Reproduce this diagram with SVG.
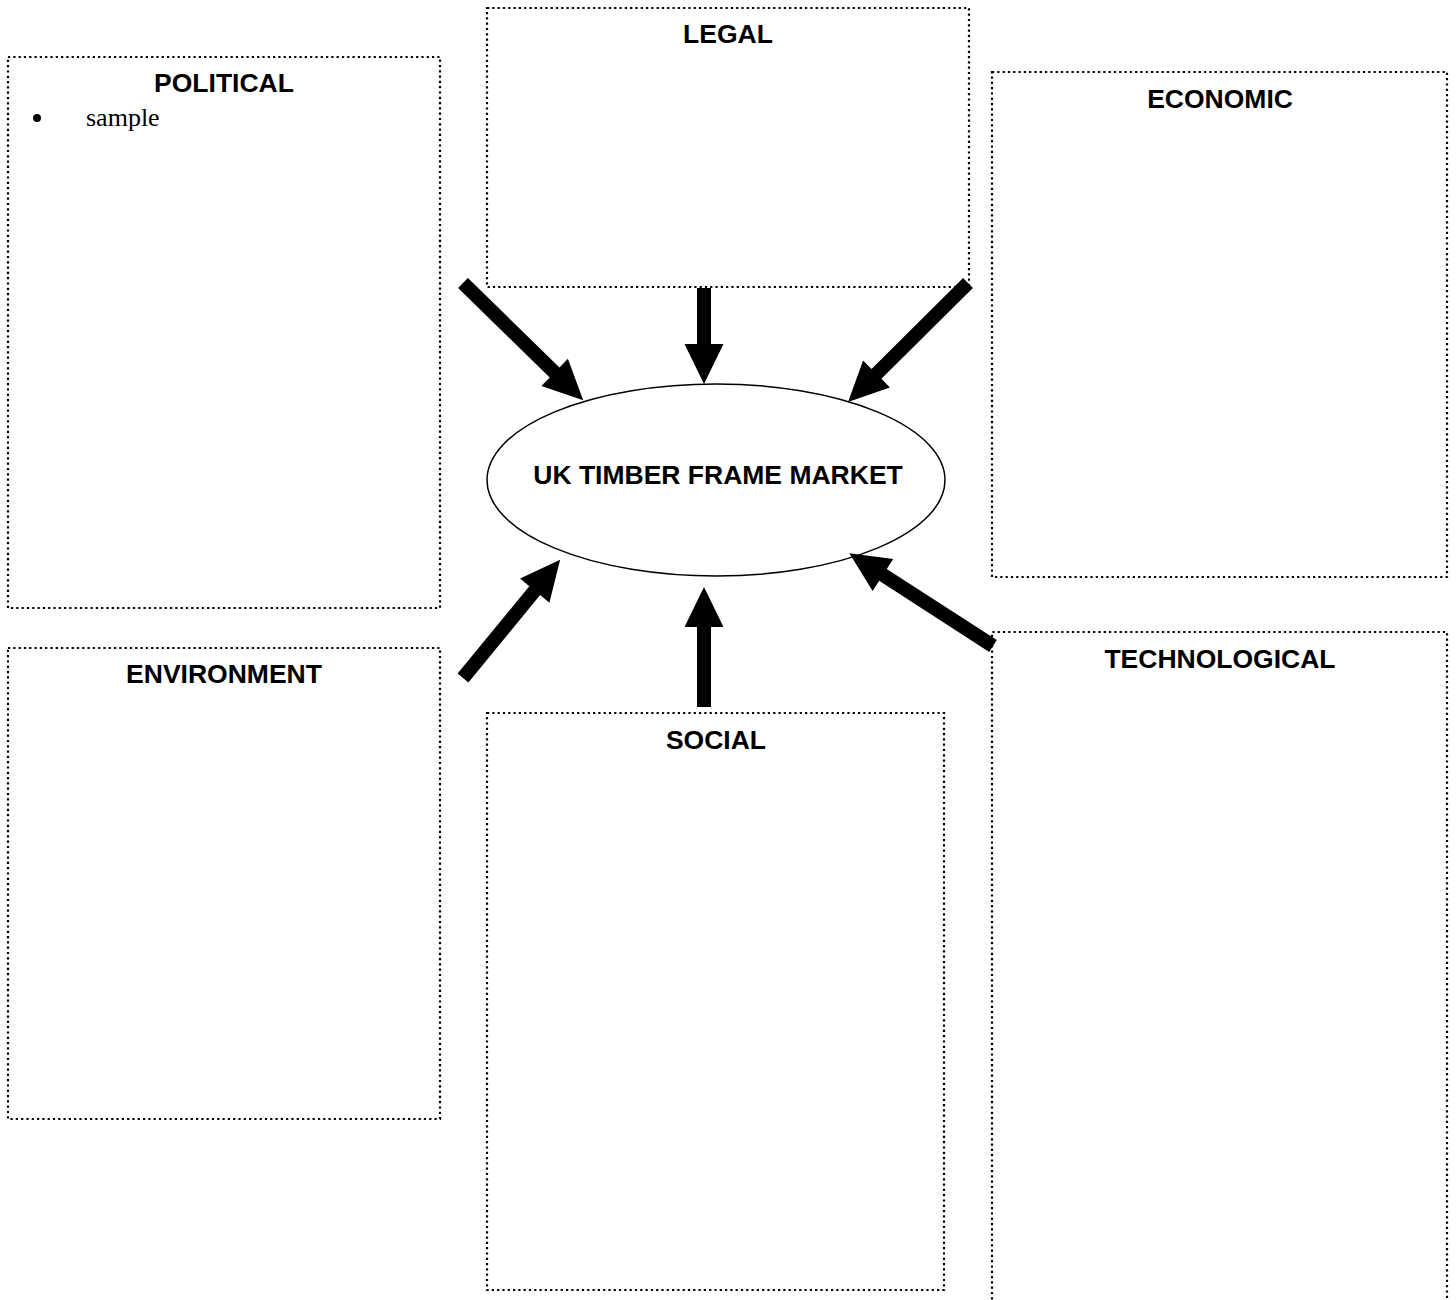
<svg xmlns="http://www.w3.org/2000/svg" width="1456" height="1300" viewBox="0 0 1456 1300">
<style>
.box{fill:none;stroke:#000;stroke-width:2.2;stroke-dasharray:2.2 3.1}
.t{font-family:"Liberation Sans",Arial,sans-serif;font-weight:bold;font-size:26.5px;text-anchor:middle;fill:#000}
.s{font-family:"Liberation Serif","Times New Roman",serif;font-size:26px;fill:#000}
.arr{fill:#000}
</style>
<rect width="1456" height="1300" fill="#fff"/>
<g id="political"><rect class="box" x="8" y="57" width="432" height="551"/><text class="t" x="224" y="92">POLITICAL</text><circle cx="37" cy="118" r="4"/><text class="s" x="86" y="126">sample</text></g>
<g id="legal"><rect class="box" x="487" y="8" width="482" height="279"/><text class="t" x="728" y="43">LEGAL</text></g>
<g id="economic"><rect class="box" x="992" y="72" width="455" height="505"/><text class="t" x="1220" y="108">ECONOMIC</text></g>
<g id="environment"><rect class="box" x="8" y="648" width="432" height="471"/><text class="t" x="224" y="683">ENVIRONMENT</text></g>
<g id="social"><rect class="box" x="487" y="713" width="457" height="577"/><text class="t" x="716" y="749">SOCIAL</text></g>
<g id="technological"><path class="box" d="M992,1310 V632 H1447 V1310"/><text class="t" x="1220" y="668">TECHNOLOGICAL</text></g>
<g id="market"><ellipse cx="716" cy="480" rx="229" ry="96" fill="#fff" stroke="#000" stroke-width="1.5"/><text class="t" x="718" y="484">UK TIMBER FRAME MARKET</text></g>
<g id="connectors" class="arr">
<path transform="translate(463,283) rotate(44.3)" d="M0,-7 H128 V-19 L168,0 L128,19 V7 H0 Z"/>
<path transform="translate(704,288) rotate(90)" d="M0,-7 H56 V-19.5 L96,0 L56,19.5 V7 H0 Z"/>
<path transform="translate(968,283) rotate(135.2)" d="M0,-7 H129 V-19 L169,0 L129,19 V7 H0 Z"/>
<path transform="translate(463,678) rotate(-50.6)" d="M0,-7 H113 V-19 L153,0 L113,19 V7 H0 Z"/>
<path transform="translate(993,646) rotate(-147.15)" d="M0,-7 H131 V-19 L171,0 L131,19 V7 H0 Z"/>
<path transform="translate(704,707) rotate(-90)" d="M0,-7 H80 V-19.5 L120,0 L80,19.5 V7 H0 Z"/>
</g>
</svg>
